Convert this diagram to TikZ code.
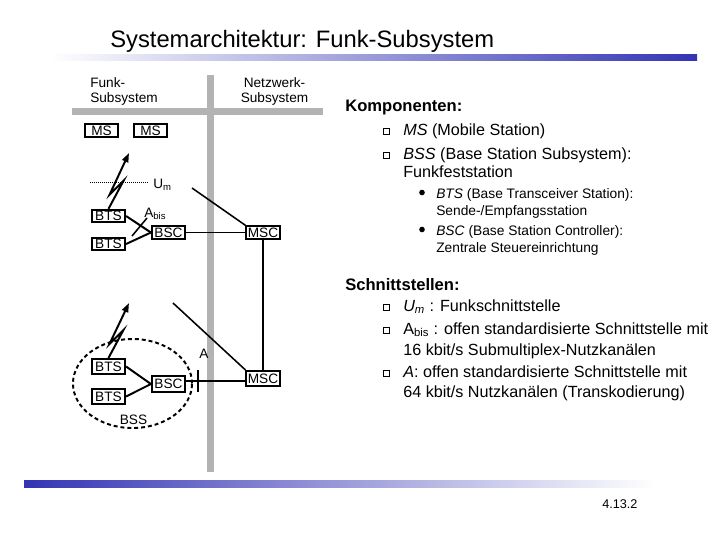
\documentclass[tikz,border=0pt]{standalone}
\usepackage{fontspec}
\setmainfont{Liberation Sans}
\usepackage{tikz}
\usetikzlibrary{arrows.meta,positioning}
\definecolor{pbar}{HTML}{B3B3B3}
\definecolor{gblue}{HTML}{3434B4}
\tikzset{
  blk/.style={draw=black,line width=1.4pt,minimum width=0.83cm,minimum height=0.31cm,
              inner sep=0pt,font=\fontsize{9.7}{10}\selectfont},
  ln/.style={line width=1.4pt},
  thn/.style={line width=1.1pt},
  sep/.style={line width=4.3pt,draw=pbar},
  bolt/.style={line width=1.4pt,-{Triangle[length=2.3mm,width=1.6mm]}},
  lbl/.style={inner sep=0pt,font=\fontsize{9.7}{11}\selectfont},
  txt/.style={anchor=base west,inner sep=0pt,font=\fontsize{11.5}{13}\selectfont},
  stxt/.style={anchor=base west,inner sep=0pt,font=\fontsize{9.8}{11}\selectfont},
  sqb/.style={line width=0.7pt},
}

\begin{document}
\begin{tikzpicture}[x=0.025cm,y=-0.025cm]
\useasboundingbox (0,0) rectangle (720,540);
% title and bars
\node[anchor=base west,inner sep=0pt,font=\fontsize{16.9}{20}\selectfont] (title) at (110,47)
  {Systemarchitektur: Funk-Subsystem};
\shade[left color=white,right color=gblue] (50,54) rectangle (697,60);
\shade[left color=gblue,right color=white] (24,480) rectangle (655,487);
\node[anchor=base west,inner sep=0pt,font=\fontsize{9}{10}\selectfont] (pnum) at (602,508) {4.13.2};
% subsystem split
\draw[sep] (72,111.5) -- (323,111.5);
\draw[sep] (210.5,75) -- (210.5,472);
\node[lbl,anchor=base west] (funk1) at (90,87) {Funk-};
\node[lbl,anchor=base west] (funk2) at (90,102) {Subsystem};
\node[lbl,anchor=base] (netz1) at (274.5,87) {Netzwerk-};
\node[lbl,anchor=base] (netz2) at (274.5,102) {Subsystem};
% upper picture
\node[blk] (ms1) at (101.5,130.5) {MS};
\node[blk] (ms2) at (150.5,130.5) {MS};
\node[blk] (bts1) at (108.5,216) {BTS};
\node[blk] (bts2) at (108.5,244) {BTS};
\node[blk] (bsc) at (168.5,232.5) {BSC};
\node[blk] (msc) at (263,232.5) {MSC};
\coordinate (um1) at (129,153);
\coordinate (dot1) at (90,182.5);
\coordinate (dot2) at (148,182.5);
\coordinate (abis1) at (132,236);
\coordinate (abis2) at (147,218);
\coordinate (in1) at (192,188);
\draw[line width=0.7pt,dash pattern=on 0.7pt off 0.7pt] (dot1) -- (dot2);
\node[lbl,anchor=base west] (um) at (153,188) {U\textsubscript{m}};
\node[lbl,anchor=base west] (abis) at (144,217) {A\textsubscript{bis}};
\draw[bolt] (bts1.north) -- ++(15,-28) -- ++(-14,14) -- (um1);
\draw[ln] (bts1.east) -- (bsc.west);
\draw[ln] (bts2.east) -- (bsc.west);
\draw[thn] (abis1) -- (abis2);
\draw[ln] (bsc) -- (msc);
\draw[thn] (in1) -- (msc.north west);
\draw[ln] (msc.south) -- (263,370.5);
% lower picture
\node[blk,minimum height=0.38cm] (bts3) at (108.5,366.5) {BTS};
\node[blk,minimum height=0.38cm] (bts4) at (108.5,396.5) {BTS};
\node[blk,minimum height=0.38cm] (bsc2) at (168.5,384) {BSC};
\node[blk,minimum height=0.38cm] (msc2) at (263,378.5) {MSC};
\coordinate (um2) at (129,303);
\coordinate (in2) at (173,303);
\coordinate (atop) at (198,370);
\coordinate (abot) at (198,392);
\draw[line width=1.4pt,dash pattern=on 2.8pt off 2.1pt] (132.5,383.5) ellipse [x radius=1.4875cm,y radius=1.1125cm];
\node[lbl,anchor=base] (bss) at (133.5,424) {BSS};
\node[lbl,anchor=base west] (alab) at (199,358) {A};
\draw[bolt] (bts3.north) -- ++(15,-28) -- ++(-14,14) -- (um2);
\draw[ln] (bts3.east) -- (bsc2.west);
\draw[ln] (bts4.east) -- (bsc2.west);
\draw[ln] (bsc2.east |- 0,381) -- (msc2.west |- 0,381);
\draw[ln] (atop) -- (abot);
\draw[thn] (in2) -- (msc2.north west);
% components
\node[anchor=base west,inner sep=0pt,font=\fontsize{11.8}{13}\selectfont\bfseries] (komp) at (345,111) {Komponenten:};
\foreach \y in {131,155,307,330,373}
  \draw[sqb] (383.5,\y-3) rectangle (389.5,\y+3);
\foreach \y in {192.5,229.5}
  \fill (422,\y) circle (0.07cm);
\node[txt] (k1) at (403,135) {\textit{MS} (Mobile Station)};
\node[txt] (k2) at (403,159) {\textit{BSS} (Base Station Subsystem):};
\node[txt] (k3) at (403,177) {Funkfeststation};
\node[stxt] (k4) at (436,198) {\textit{BTS} (Base Transceiver Station):};
\node[stxt] (k5) at (436,215) {Sende-/Empfangsstation};
\node[stxt] (k6) at (436,235) {\textit{BSC} (Base Station Controller):};
\node[stxt] (k7) at (436,252) {Zentrale Steuereinrichtung};
% interfaces
\node[anchor=base west,inner sep=0pt,font=\fontsize{11.8}{13}\selectfont\bfseries] (schn) at (345,290) {Schnittstellen:};
\node[txt] (s1) at (403,311) {\textit{U\textsubscript{m}} : Funkschnittstelle};
\node[txt] (s2) at (403,334) {A\textsubscript{bis} : offen standardisierte Schnittstelle mit};
\node[txt] (s3) at (403,355) {16 kbit/s Submultiplex-Nutzkanälen};
\node[txt] (s4) at (403,377) {\textit{A}: offen standardisierte Schnittstelle mit};
\node[txt] (s5) at (403,397) {64 kbit/s Nutzkanälen (Transkodierung)};
\end{tikzpicture}
\end{document}
